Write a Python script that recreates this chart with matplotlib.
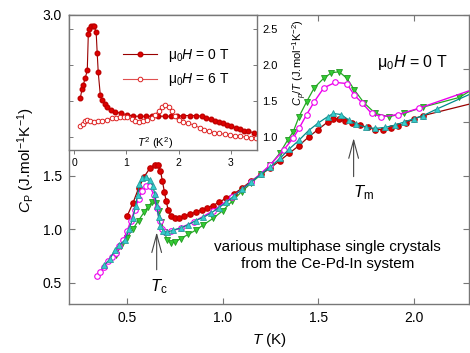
import matplotlib
matplotlib.use('Agg')
import matplotlib.pyplot as plt

plt.rcParams['font.family'] = ['Liberation Sans', 'DejaVu Sans']
plt.rcParams['mathtext.fontset'] = 'custom'
plt.rcParams['mathtext.rm'] = 'Liberation Sans'
plt.rcParams['mathtext.it'] = 'Liberation Sans:italic'

# main panel: Cp vs T for the four crystals
red_T = [0.50, 0.53, 0.56, 0.59, 0.62, 0.645, 0.66, 0.675, 0.685, 0.695, 0.705, 0.715,
         0.73, 0.75, 0.77, 0.80, 0.83, 0.86, 0.89, 0.92, 0.95, 0.98, 1.02, 1.06, 1.10,
         1.15, 1.20, 1.25, 1.30, 1.35, 1.40, 1.45, 1.50, 1.55, 1.58, 1.61, 1.64, 1.68,
         1.72, 1.76, 1.80, 1.84, 1.88, 1.92, 1.96, 2.00, 2.05, 2.32]
red_Cp = [1.12, 1.24, 1.38, 1.49, 1.57, 1.60, 1.60, 1.54, 1.45, 1.35, 1.26, 1.18,
          1.12, 1.10, 1.10, 1.12, 1.14, 1.16, 1.18, 1.20, 1.22, 1.25, 1.29, 1.33, 1.38,
          1.45, 1.51, 1.57, 1.64, 1.71, 1.78, 1.86, 1.93, 2.00, 2.03, 2.03, 2.01, 1.99,
          1.97, 1.95, 1.93, 1.93, 1.94, 1.96, 1.99, 2.03, 2.06, 2.18]

cyan_T = [0.38, 0.41, 0.435, 0.46, 0.49, 0.51, 0.53, 0.545, 0.555, 0.565, 0.58, 0.60,
          0.62, 0.635, 0.645, 0.655, 0.665, 0.675, 0.69, 0.71, 0.74, 0.78, 0.82, 0.86,
          0.90, 0.94, 0.98, 1.02, 1.06, 1.10, 1.15, 1.20, 1.25, 1.30, 1.35, 1.40, 1.45,
          1.50, 1.55, 1.58, 1.62, 1.66, 1.70, 1.75, 1.80, 1.85, 1.90, 1.95, 2.00, 2.05,
          2.12, 2.32]
cyan_Cp = [0.66, 0.72, 0.80, 0.85, 0.90, 1.00, 1.10, 1.22, 1.32, 1.42, 1.48, 1.49,
           1.46, 1.40, 1.33, 1.22, 1.11, 1.03, 0.98, 0.97, 0.99, 1.01, 1.04, 1.08,
           1.11, 1.15, 1.20, 1.25, 1.31, 1.37, 1.44, 1.51, 1.58, 1.66, 1.75, 1.83, 1.92,
           1.99, 2.05, 2.08, 2.07, 2.02, 1.98, 1.95, 1.94, 1.95, 1.97, 2.00, 2.03, 2.06,
           2.12, 2.28]

mag_T = [0.34, 0.36, 0.38, 0.40, 0.42, 0.44, 0.46, 0.48, 0.50, 0.52, 0.54, 0.56, 0.58,
         0.60, 0.62, 0.64, 0.655, 0.67, 0.685, 0.70, 0.73, 0.78, 0.85, 0.95, 1.05, 1.15,
         1.25, 1.32, 1.37, 1.40, 1.44, 1.48, 1.53, 1.59, 1.65, 1.69, 1.73, 1.78, 1.83,
         1.92, 2.03, 2.32]
mag_Cp = [0.56, 0.60, 0.65, 0.70, 0.74, 0.78, 0.84, 0.90, 0.98, 1.08, 1.18, 1.28, 1.36,
          1.40, 1.40, 1.32, 1.20, 1.08, 1.00, 0.97, 0.98, 1.01, 1.07, 1.17, 1.30, 1.44,
          1.60, 1.74, 1.85, 1.94, 2.07, 2.19, 2.32, 2.37, 2.36, 2.25, 2.18, 2.08, 2.05,
          2.07, 2.13, 2.31]

green_T = [0.44, 0.47, 0.50, 0.53, 0.56, 0.59, 0.61, 0.63, 0.65, 0.665, 0.68, 0.695,
           0.71, 0.73, 0.75, 0.78, 0.82, 0.86, 0.90, 0.95, 1.00, 1.05, 1.10, 1.15, 1.20,
           1.25, 1.30, 1.34, 1.37, 1.40, 1.44, 1.48, 1.53, 1.57, 1.61, 1.65, 1.69, 1.74,
           1.80, 1.87, 1.95, 2.05, 2.24, 2.33]
green_Cp = [0.76, 0.84, 0.92, 1.00, 1.08, 1.16, 1.21, 1.25, 1.24, 1.17, 1.07, 0.97,
            0.90, 0.87, 0.88, 0.91, 0.95, 0.99, 1.04, 1.10, 1.17, 1.26, 1.35, 1.43, 1.51,
            1.60, 1.71, 1.83, 1.91, 2.05, 2.19, 2.32, 2.41, 2.46, 2.47, 2.41, 2.30, 2.18,
            2.08, 2.05, 2.08, 2.14, 2.23, 2.33]

# inset: Cp/T vs T^2 for one crystal, 0 T and 6 T
in0_T2 = [0.115, 0.15, 0.17, 0.21, 0.25, 0.27, 0.29, 0.32, 0.35, 0.38, 0.42, 0.44,
          0.46, 0.50, 0.54, 0.58, 0.63, 0.70, 0.79, 0.90, 1.02, 1.13, 1.25, 1.37, 1.49,
          1.61, 1.73, 1.85, 1.97, 2.09, 2.21, 2.33, 2.45, 2.53, 2.61, 2.69, 2.77, 2.85,
          2.93, 3.01, 3.09, 3.17, 3.25, 3.33, 3.44]
in0_CpT = [1.54, 1.67, 1.72, 1.82, 1.93, 2.44, 2.51, 2.54, 2.55, 2.55, 2.46, 2.17,
           1.90, 1.58, 1.51, 1.46, 1.42, 1.38, 1.35, 1.33, 1.31, 1.29, 1.29, 1.29, 1.29,
           1.29, 1.29, 1.29, 1.29, 1.30, 1.30, 1.30, 1.29, 1.27, 1.25, 1.23, 1.21, 1.19,
           1.17, 1.15, 1.13, 1.11, 1.09, 1.08, 1.06]

in6_T2 = [0.115, 0.16, 0.20, 0.25, 0.30, 0.37, 0.45, 0.53, 0.63, 0.72, 0.80, 0.88,
          0.95, 1.02, 1.10, 1.17, 1.24, 1.32, 1.40, 1.48, 1.55, 1.62, 1.68, 1.74, 1.81,
          1.87, 1.93, 2.00, 2.08, 2.17, 2.29, 2.40, 2.48, 2.58, 2.68, 2.78, 2.88, 2.98,
          3.08, 3.18, 3.28, 3.38, 3.48]
in6_CpT = [1.15, 1.18, 1.22, 1.24, 1.22, 1.21, 1.22, 1.23, 1.24, 1.26, 1.27, 1.28,
           1.28, 1.28, 1.25, 1.22, 1.21, 1.22, 1.24, 1.27, 1.31, 1.37, 1.42, 1.44, 1.42,
           1.36, 1.29, 1.24, 1.21, 1.19, 1.17, 1.13, 1.10, 1.08, 1.06, 1.05, 1.04, 1.03,
           1.02, 1.01, 1.00, 0.99, 0.99]

spine_col = '#777777'

fig = plt.figure(figsize=(4.70, 3.53), dpi=100)
ax = fig.add_axes([69 / 470, 49 / 353, 400 / 470, 289 / 353])

ax.plot(red_T, red_Cp, '-', color='#990000', lw=0.9, marker='o', ms=3.8,
        mfc='#e00000', mec='#c00000', zorder=3)
ax.plot(green_T, green_Cp, '-', color='#22aa22', lw=0.9, marker='v', ms=4.5,
        mfc='#33cc33', mec='#229922', mew=0.6, zorder=4)
ax.plot(mag_T, mag_Cp, '-', color='#ee00ee', lw=1.0, marker='o', ms=4.0,
        mfc='white', mec='#ee00ee', mew=0.8, zorder=5)
ax.plot(cyan_T, cyan_Cp, '-', color='#008b8b', lw=0.9, marker='^', ms=4.5,
        mfc='#33cccc', mec='#2a9d9d', mew=0.6, zorder=6)

ax.set_xlim(0.196, 2.29)
ax.set_ylim(0.30, 3.0)
ax.set_xticks([0.5, 1.0, 1.5, 2.0])
ax.set_xticklabels(['0.5', '1.0', '1.5', '2.0'])
ax.set_yticks([0.5, 1.0, 1.5, 2.0, 2.5, 3.0])
ax.set_yticklabels(['0.5', '1.0', '1.5', '', '', '3.0'])
ax.tick_params(direction='in', top=True, right=True, length=4, width=0.8,
               color=spine_col, labelsize=10, pad=5)
for s in ax.spines.values():
    s.set_color(spine_col)
    s.set_linewidth(1.0)

ax.set_xlabel('$T$ (K)', fontsize=11)
ax.xaxis.set_label_coords(0.5, -0.093)
ax.set_ylabel('$C_\\mathrm{P}$ (J.mol$^{-1}$K$^{-1}$)', fontsize=11)
ax.yaxis.set_label_coords(-0.08, 0.5)

ax.text(1.995, 2.56, 'μ$_0$$H$ = 0 T', fontsize=11.5, ha='center', va='center')
ax.text(1.55, 0.75, 'various multiphase single crystals\nfrom the Ce-Pd-In system',
        fontsize=11, ha='center', va='center', linespacing=1.3)

arrow_kw = dict(arrowstyle='->,head_length=1.3,head_width=0.35', color='#444444',
                lw=0.8, mutation_scale=10, shrinkA=0, shrinkB=0)
ax.annotate('', xy=(0.655, 0.97), xytext=(0.655, 0.62), arrowprops=arrow_kw)
ax.text(0.665, 0.46, '$T_\\mathrm{c}$', fontsize=12, ha='center', va='center')
ax.annotate('', xy=(1.686, 1.85), xytext=(1.686, 1.49), arrowprops=arrow_kw)
ax.text(1.738, 1.34, '$T_\\mathrm{m}$', fontsize=12, ha='center', va='center')

# inset
ax_in = fig.add_axes([69 / 470, 203 / 353, 188 / 470, 135 / 353])
ax_in.set_facecolor('white')
ax_in.plot(in0_T2, in0_CpT, '-', color='#990000', lw=0.8, marker='o', ms=3.3,
           mfc='#e00000', mec='#c00000', label='μ$_0$$H$ = 0 T')
ax_in.plot(in6_T2, in6_CpT, '-', color='#e05050', lw=0.8, marker='o', ms=3.3,
           mfc='white', mec='#dd2222', mew=0.7, label='μ$_0$$H$ = 6 T')
ax_in.set_xlim(-0.1, 3.5)
ax_in.set_ylim(0.82, 2.7)
ax_in.set_xticks([0, 1, 2, 3])
ax_in.set_yticks([1.0, 1.5, 2.0, 2.5])
ax_in.tick_params(axis='x', direction='out', length=3, width=0.7, color=spine_col,
                  labelsize=7.5, pad=3)
ax_in.tick_params(axis='y', direction='in', left=True, right=True, labelleft=False,
                  labelright=True, length=3, width=0.7, color=spine_col,
                  labelsize=8, pad=4)
for s in ax_in.spines.values():
    s.set_color(spine_col)
    s.set_linewidth(1.0)
ax_in.text(0.457, 0.052, '$T^2$ (K$^2$)', transform=ax_in.transAxes, fontsize=8,
           ha='center', va='center')
ax_in.text(1.23, 0.65, '$C_p/T$ (J.mol$^{-1}$K$^{-2}$)', transform=ax_in.transAxes,
           fontsize=8, rotation=90, ha='center', va='center')
ax_in.legend(loc='upper left', bbox_to_anchor=(0.287, 0.765), frameon=False,
             fontsize=10, handlelength=2.45, handletextpad=0.8, labelspacing=0.55,
             borderpad=0, borderaxespad=0)

fig.savefig('out.png', dpi=100)
